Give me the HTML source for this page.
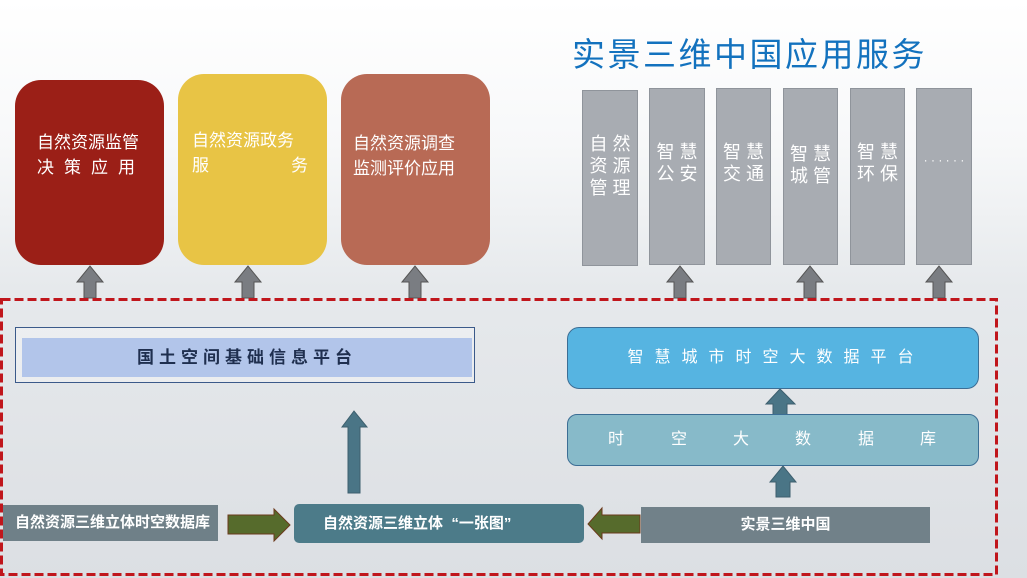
<!DOCTYPE html>
<html><head><meta charset="utf-8"><style>
*{margin:0;padding:0;box-sizing:border-box}
body{width:1027px;height:578px;position:relative;overflow:hidden;font-family:"Liberation Sans","Noto Sans CJK SC",sans-serif;background:linear-gradient(#ffffff 0%,#f7f8f9 25%,#e6e9ec 50%,#dcdfe3 100%)}
.a{position:absolute}
.rb{border-radius:26px;color:#fff;font-size:17px;line-height:25px}
.col{background:#a8acb2;border:1px solid #8f949b;color:#fff;font-size:18px;line-height:22px;text-align:center}
</style></head><body>
<div class="a" style="left:572px;top:28px;font-size:33px;color:#1372be;letter-spacing:2.5px;white-space:nowrap">实景三维中国应用服务</div>

<div class="a rb" style="left:15px;top:80px;width:149px;height:185px;background:#9b1f17;padding:50px 0 0 22px">自然资源监管<br><span style="letter-spacing:10px">决策应用</span></div>
<div class="a rb" style="left:178px;top:74px;width:149px;height:191px;background:#e8c445;padding:54px 0 0 14px">自然资源政务<br>服<span style="display:inline-block;width:82px"></span>务</div>
<div class="a rb" style="left:341px;top:74px;width:149px;height:191px;background:#b86a55;padding:57px 0 0 12px">自然资源调查<br>监测评价应用</div>

<div class="a col" style="left:582px;top:90px;width:56px;height:176px;padding-top:42px">自 然<br>资 源<br>管 理</div>
<div class="a col" style="left:649px;top:88px;width:56px;height:177px;padding-top:52px">智 慧<br>公 安</div>
<div class="a col" style="left:716px;top:88px;width:55px;height:177px;padding-top:52px">智 慧<br>交 通</div>
<div class="a col" style="left:783px;top:88px;width:55px;height:177px;padding-top:54px">智 慧<br>城 管</div>
<div class="a col" style="left:850px;top:88px;width:55px;height:177px;padding-top:52px">智 慧<br>环 保</div>
<div class="a col" style="left:916px;top:88px;width:56px;height:177px;padding-top:60px;font-size:12px">· · · · · ·</div>

<svg class="a" style="left:0;top:0" width="1027" height="578">
<g fill="#7a7d82" stroke="#555" stroke-width="1">
<path d="M84,298V282H77L90,266L103,282H96V298Z"/>
<path d="M242,298V282H235L248,266L261,282H254V298Z"/>
<path d="M409,298V282H402L415,266L428,282H421V298Z"/>
<path d="M674,298V282H667L680,266L693,282H686V298Z"/>
<path d="M804,298V282H797L810,266L823,282H816V298Z"/>
<path d="M933,298V282H926L939,266L952,282H945V298Z"/>
</g>
<rect x="1.5" y="299.5" width="995" height="275" fill="none" stroke="#c0161c" stroke-width="3" stroke-dasharray="9,4"/>
<g fill="#4a7586" stroke="#3d5f6e" stroke-width="1">
<path d="M348,493V427H342L354,411L367,427H360V493Z"/>
<path d="M773,415V404H766L780,389L795,404H787V415Z"/>
<path d="M776,497V482H770L783,466L796,482H790V497Z"/>
</g>
<g fill="#566b2c" stroke="#6b3a1c" stroke-width="1">
<path d="M228,515H274V509L290,525L274,541V534H228Z"/>
<path d="M640,515H602V508L588,524L602,539V533H640Z"/>
</g>
</svg>

<div class="a" style="left:15px;top:327px;width:460px;height:56px;border:1px solid #3b5a8a;background:rgba(255,255,255,0.3)"></div>
<div class="a" style="left:22px;top:338px;width:450px;height:39px;background:#b2c5ea;color:#1f2f4f;font-weight:bold;font-size:17px;letter-spacing:5px;text-align:center;line-height:39px">国土空间基础信息平台</div>

<div class="a" style="left:3px;top:505px;width:215px;height:36px;background:#6f8088;color:#fff;font-weight:bold;font-size:15px;line-height:36px;padding-left:12px">自然资源三维立体时空数据库</div>
<div class="a" style="left:294px;top:504px;width:290px;height:39px;background:#4c7b89;border-radius:5px;color:#fff;font-weight:bold;font-size:15px;line-height:39px;padding-left:29px;white-space:nowrap">自然资源三维立体&nbsp;&nbsp;“一张图”</div>
<div class="a" style="left:641px;top:507px;width:289px;height:36px;background:#718189;color:#fff;font-weight:bold;font-size:15px;line-height:36px;text-align:center">实景三维中国</div>

<div class="a" style="left:567px;top:327px;width:412px;height:62px;background:#56b4e1;border:1px solid #3c6e95;border-radius:12px;color:#fff;font-size:16px;letter-spacing:11px;text-align:center;line-height:60px;padding-left:6px">智慧城市时空大数据平台</div>
<div class="a" style="left:567px;top:414px;width:412px;height:52px;background:#87bac9;border:1px solid #3c6e95;border-radius:10px;color:#fff;font-size:16px;line-height:50px">
<span class="a" style="left:40px">时</span><span class="a" style="left:103px">空</span><span class="a" style="left:165px">大</span><span class="a" style="left:227px">数</span><span class="a" style="left:290px">据</span><span class="a" style="left:352px">库</span></div>
</body></html>
